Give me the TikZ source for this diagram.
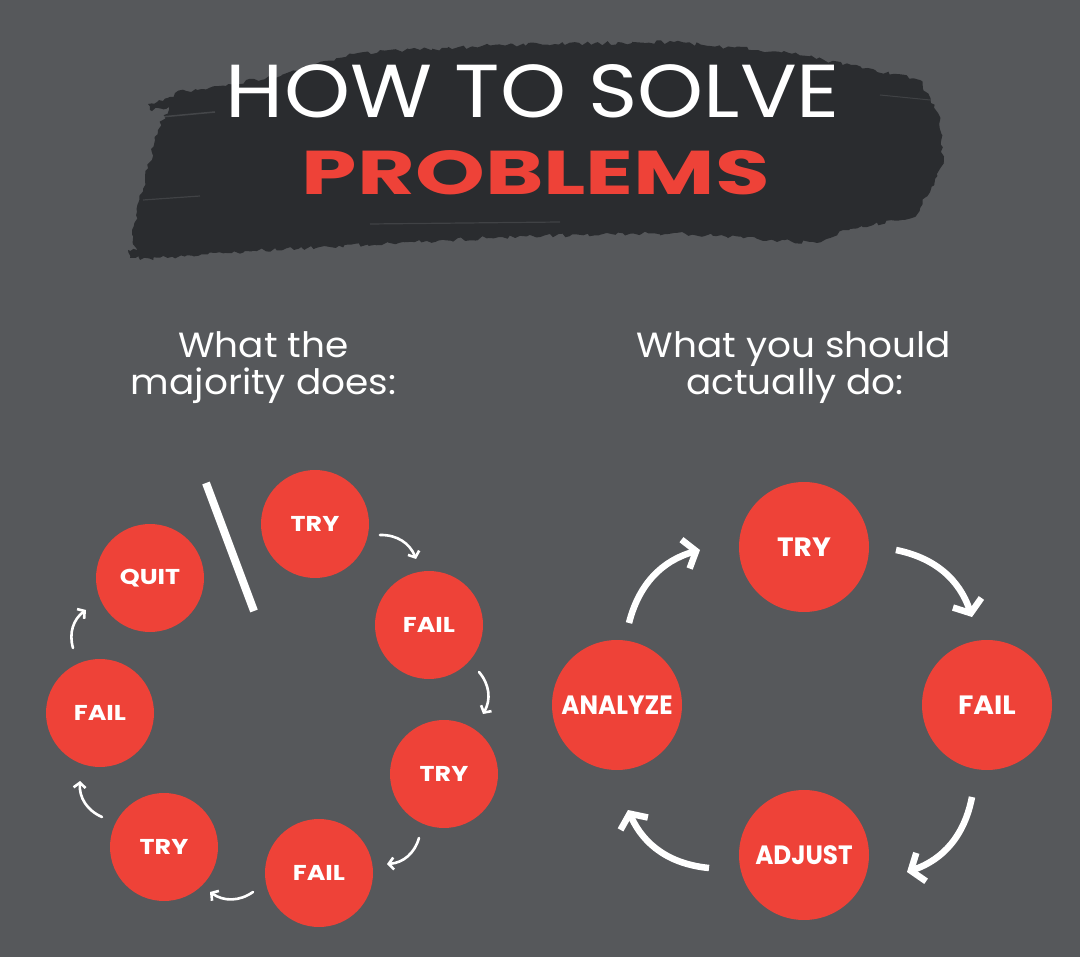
\documentclass[tikz,border=0pt]{standalone}
\usepackage{fontspec}
\setmainfont{Poppins}
\usetikzlibrary{arrows.meta,decorations.pathmorphing}
\definecolor{bgc}{RGB}{86,88,91}
\definecolor{brushc}{RGB}{42,44,47}
\definecolor{redc}{RGB}{238,66,56}
\newcommand{\widelab}[1]{\scalebox{1.18}[1]{#1}}
\newcommand{\widelabb}[1]{\scalebox{1.06}[1]{#1}}
\newcommand{\narrowlab}[1]{\scalebox{0.93}[1]{#1}}
\newcommand{\subwide}[1]{\scalebox{1.07}[1]{#1}}
\begin{document}
\begin{tikzpicture}[x=1pt,y=-1pt,
  smallc/.style={circle, fill=redc, minimum size=108pt, inner sep=0pt, text=white, font=\bfseries\fontsize{21.5}{21.5}\selectfont},
  bigc/.style={circle, fill=redc, minimum size=130pt, inner sep=0pt, text=white, font=\bfseries\fontsize{26.5}{26.5}\selectfont},
  thinarr/.style={draw=white, line width=2.6pt, line cap=round, -{Straight Barb[length=5pt,width=12pt]}},
  thickarr/.style={draw=white, line width=6.5pt, -{Straight Barb[length=11pt,width=30pt]}},
  subt/.style={anchor=base, text=white, font=\fontsize{35}{35}\selectfont}
]
\fill[bgc] (0,0) rectangle (1080,957);
\useasboundingbox (0,0) rectangle (1080,957);
% brush stroke
\pgfmathsetseed{7}
\fill[brushc, decorate, decoration={random steps,segment length=4pt,amplitude=2pt}]
  (140,260) -- (132,235) -- (145,180) -- (158,130) -- (175,93) -- (272,77) -- (358,53)
  -- (502,45) -- (674,42) -- (789,53) -- (875,70) -- (920,80) -- (938,113) -- (944,163)
  -- (926,197) -- (915,217) -- (846,230) -- (817,243) -- (674,233) -- (502,237)
  -- (330,247) -- (215,253) -- cycle;
\fill[brushc, decorate, decoration={random steps,segment length=3pt,amplitude=1.5pt}]
  (128,250) -- (150,246) -- (152,254) -- (130,258) -- cycle;
\fill[brushc, decorate, decoration={random steps,segment length=3pt,amplitude=1.5pt}]
  (148,104) -- (175,97) -- (176,106) -- (150,110) -- cycle;
\draw[bgc, line width=1.5pt, opacity=0.6] (150,118) -- (215,112);
\draw[bgc, line width=1.2pt, opacity=0.5] (143,200) -- (200,196);
\draw[bgc, line width=1.2pt, opacity=0.5] (370,224) -- (560,222);
\draw[bgc, line width=1pt, opacity=0.5] (880,95) -- (930,100);
% title
\node[text=white, inner sep=0pt] (t1) at (533,91.5) {\resizebox{614pt}{53pt}{\fontsize{74}{74}\selectfont HOW TO SOLVE}};
\node[text=redc, inner sep=0pt] (t2) at (536,173) {\resizebox{468pt}{44pt}{\bfseries\fontsize{62}{62}\selectfont PROBLEMS}};
% subtitles
\node[subt] (s1) at (263.5,358) {\subwide{What the}};
\node[subt] (s2) at (263.5,395) {\subwide{majority does:}};
\node[subt] (s3) at (794,358) {\subwide{What you should}};
\node[subt] (s4) at (795,395) {\subwide{actually do:}};
% left cycle
\node[smallc] (l1) at (315,524) {\widelab{TRY}};
\node[smallc] (l2) at (429,625) {\widelab{FAIL}};
\node[smallc] (l3) at (444,774) {\widelab{TRY}};
\node[smallc] (l4) at (319,873) {\widelab{FAIL}};
\node[smallc] (l5) at (164,847) {\widelab{TRY}};
\node[smallc] (l6) at (100,713) {\widelab{FAIL}};
\node[smallc] (l7) at (150,578) {\widelab{QUIT}};
\coordinate (q1) at (206,483);
\coordinate (q2) at (254,611);
\draw[white, line width=8pt] (q1) -- (q2);
\coordinate (a1s) at (380,535); \coordinate (a1e) at (416,559);
\coordinate (a2s) at (479,672); \coordinate (a2e) at (483,714);
\coordinate (a3s) at (419,838); \coordinate (a3e) at (387,864);
\coordinate (a4s) at (253,892); \coordinate (a4e) at (210,892);
\coordinate (a5s) at (102,817); \coordinate (a5e) at (80,781);
\coordinate (a6s) at (73,648);  \coordinate (a6e) at (86,610);
\draw[thinarr] (a1s) to[bend left=35] (a1e);
\draw[thinarr] (a2s) to[bend left=35] (a2e);
\draw[thinarr] (a3s) to[bend left=35] (a3e);
\draw[thinarr] (a4s) to[bend left=35] (a4e);
\draw[thinarr] (a5s) to[bend left=35] (a5e);
\draw[thinarr] (a6s) to[bend left=35] (a6e);
% right cycle
\node[bigc] (r1) at (804,547) {\widelabb{TRY}};
\node[bigc] (r2) at (987,705) {\widelabb{FAIL}};
\node[bigc] (r3) at (804,855) {\narrowlab{ADJUST}};
\node[bigc] (r4) at (617,705) {\narrowlab{ANALYZE}};
\coordinate (b1s) at (629,623); \coordinate (b1e) at (700,550);
\coordinate (b2s) at (896,550); \coordinate (b2e) at (972,617);
\coordinate (b3s) at (972,797); \coordinate (b3e) at (907,872);
\coordinate (b4s) at (709,868); \coordinate (b4e) at (628,810);
\draw[thickarr] (b1s) to[bend left=30] (b1e);
\draw[thickarr] (b2s) to[bend left=30] (b2e);
\draw[thickarr] (b3s) to[bend left=30] (b3e);
\draw[thickarr] (b4s) to[bend left=30] (b4e);
\end{tikzpicture}
\end{document}
